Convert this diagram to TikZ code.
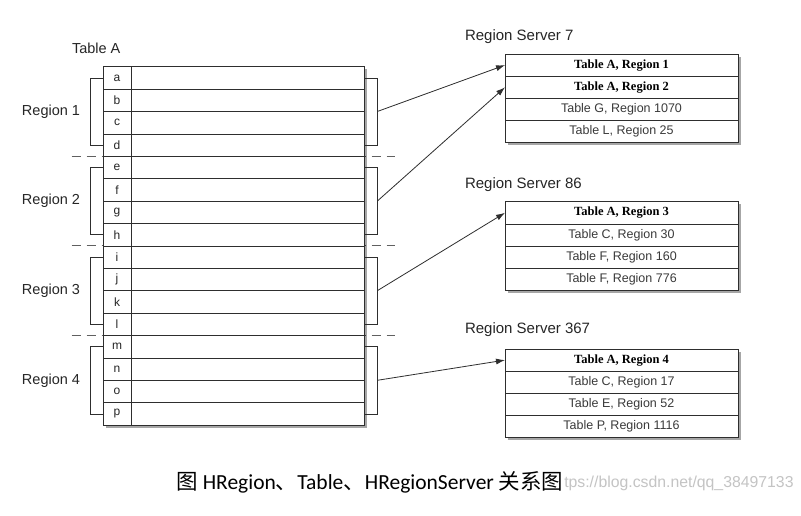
\documentclass[tikz,border=0pt]{standalone}
\usepackage{fontspec}
\setmainfont{Liberation Sans}
\newfontfamily\serifb{Liberation Serif}
\newfontfamily\capfont{Carlito}
\newfontfamily\cjk{Noto Sans CJK SC}
\usetikzlibrary{arrows.meta,shadows,calc}
\definecolor{linec}{HTML}{2E2E2E}
\definecolor{txtc}{HTML}{262626}
\definecolor{rowtxt}{HTML}{3A3A3A}
\definecolor{dashc}{HTML}{606060}
\definecolor{wmark}{HTML}{C4C4C4}
\begin{document}
\begin{tikzpicture}[x=1pt,y=-1pt,
  every node/.style={inner sep=0pt, outer sep=0pt},
  cellline/.style={draw=linec, line width=0.8pt},
  lettercell/.style={cellline, fill=white, minimum width=28pt, minimum height=22.4pt, text=txtc, font=\fontsize{12}{12}\selectfont},
  datacell/.style={cellline, fill=white, minimum width=233pt, minimum height=22.4pt},
  tblshadow/.style={draw=none, fill=white, minimum width=261pt, minimum height=358.3pt,
     drop shadow={shadow xshift=2.5pt, shadow yshift=-2.5pt, fill=black, opacity=0.35}},
  srvshadow/.style={draw=none, fill=white, minimum width=233pt, minimum height=88.8pt,
     drop shadow={shadow xshift=2.5pt, shadow yshift=-2.5pt, fill=black, opacity=0.35}},
  srvrow/.style={cellline, fill=white, minimum width=233pt, minimum height=22.2pt, text=rowtxt, font=\fontsize{12.5}{12.5}\selectfont},
  srvbold/.style={srvrow, text=black, font=\serifb\bfseries\fontsize{12.5}{12.5}\selectfont},
  reglabel/.style={text=txtc, font=\fontsize{14.5}{14.5}\selectfont},
  srvlabel/.style={text=txtc, anchor=west, font=\fontsize{15}{15}\selectfont},
  bracket/.style={draw=linec, line width=0.8pt},
  sep/.style={draw=dashc, line width=0.9pt, dash pattern=on 9pt off 6pt},
  conn/.style={draw=linec, line width=0.8pt, -{Latex[length=9pt,width=6pt]}}
]
\useasboundingbox (0,0) rectangle (801,515);
\fill[white] (0,0) rectangle (801,515);

% dashed separators (behind the table)
\coordinate (sepL) at (71.7,0);
\coordinate (sepR) at (395,0);
\foreach \yy in {156.3,245.9,335.5} {
  \draw[sep] (sepL |- 0,\yy) -- (sepR |- 0,\yy);
}

% Table A
\node[reglabel, anchor=west] (tA) at (72,48) {Table A};
\node[tblshadow] (tbl) at (233.5,245.85) {};
\foreach \l [count=\i from 0] in {a,b,c,d,e,f,g,h,i,j,k,l,m,n,o,p} {
  \pgfmathsetmacro\yy{77.9+22.4*\i}
  \node[datacell] (d\l) at (247.5,\yy) {};
  \node[lettercell] (l\l) at (117,\yy) {\l};
}

% brackets and region labels
\foreach \k/\f/\g in {1/a/d,2/e/h,3/i/l,4/m/p} {
  \draw[bracket] (l\f.west) -- ++(-12.3,0) |- (l\g.west);
  \draw[bracket] (d\f.east) -- ++(13.3,0) |- (d\g.east);
  \coordinate (b\k) at ($($(d\f.east)!0.5!(d\g.east)$)+(13.3,0)$);
  \node[reglabel] (R\k) at ($($(l\f.west)!0.5!(l\g.west)$)+(-52,0)$) {Region \k};
}

% Region Server 7
\node[srvlabel] (L7) at (465,36.7) {Region Server 7};
\node[srvshadow] (S7) at (621.5,98.4) {};
\node[srvbold] (s7a) at (621.5,65.1) {Table A, Region 1};
\node[srvbold] (s7b) at (621.5,87.3) {Table A, Region 2};
\node[srvrow] (s7c) at (621.5,109.5) {Table G, Region 1070};
\node[srvrow] (s7d) at (621.5,131.7) {Table L, Region 25};

% Region Server 86
\node[srvlabel] (L86) at (465,185) {Region Server 86};
\node[srvshadow] (S86) at (621.5,246.1) {};
\node[srvbold] (s86a) at (621.5,212.8) {Table A, Region 3};
\node[srvrow] (s86b) at (621.5,235) {Table C, Region 30};
\node[srvrow] (s86c) at (621.5,257.2) {Table F, Region 160};
\node[srvrow] (s86d) at (621.5,279.4) {Table F, Region 776};

% Region Server 367
\node[srvlabel] (L367) at (465,330) {Region Server 367};
\node[srvshadow] (S367) at (621.5,393.4) {};
\node[srvbold] (s367a) at (621.5,360.1) {Table A, Region 4};
\node[srvrow] (s367b) at (621.5,382.3) {Table C, Region 17};
\node[srvrow] (s367c) at (621.5,404.5) {Table E, Region 52};
\node[srvrow] (s367d) at (621.5,426.7) {Table P, Region 1116};

% connectors
\draw[conn] (b1) -- (s7a.west);
\draw[conn] (b2) -- (s7b.west);
\draw[conn] (b3) -- (s86a.west);
\draw[conn] (b4) -- (s367a.west);

% caption and watermark
\node[anchor=west, text=black, font=\cjk\fontsize{21.5}{21.5}\selectfont] (cap) at (176.5,482)
  {图 {\capfont HRegion}、{\capfont Table}、{\capfont HRegionServer} 关系图};
\node[anchor=west, text=wmark, font=\fontsize{15.8}{15.8}\selectfont] (wm) at ([xshift=1pt]cap.east |- 0,483) {tps://blog.csdn.net/qq\_38497133};
\end{tikzpicture}
\end{document}
